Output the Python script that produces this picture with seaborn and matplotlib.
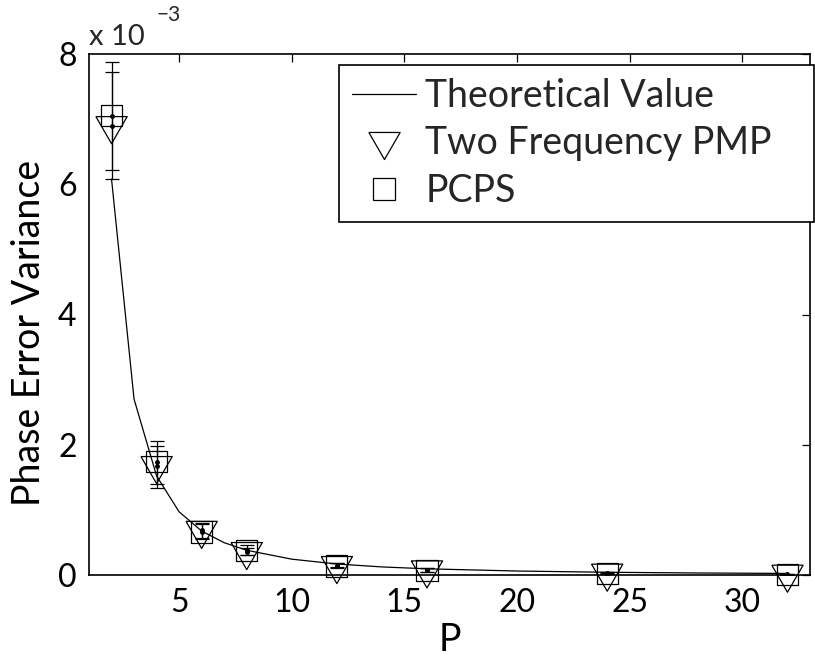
import numpy as np
import pandas as pd
import matplotlib
matplotlib.use("Agg")
import matplotlib.pyplot as plt
from matplotlib.lines import Line2D
import seaborn as sns

# ---------------- data ----------------
P = [2, 4, 6, 8, 12, 16, 24, 32]

pmp_mean = [6.90e-3, 1.68e-3, 0.685e-3, 0.36e-3, 0.145e-3, 0.078e-3, 0.028e-3, 0.012e-3]
pmp_low = [6.22e-3, 1.40e-3, 0.57e-3, 0.31e-3, 0.12e-3, 0.050e-3, 0.015e-3, 0.005e-3]
pmp_high = [7.72e-3, 1.98e-3, 0.78e-3, 0.42e-3, 0.18e-3, 0.100e-3, 0.040e-3, 0.020e-3]

pcps_mean = [7.05e-3, 1.74e-3, 0.66e-3, 0.38e-3, 0.14e-3, 0.072e-3, 0.018e-3, 0.005e-3]
pcps_low = [6.08e-3, 1.34e-3, 0.55e-3, 0.30e-3, 0.11e-3, 0.045e-3, 0.010e-3, 0.000e-3]
pcps_high = [7.88e-3, 2.06e-3, 0.80e-3, 0.455e-3, 0.19e-3, 0.100e-3, 0.030e-3, 0.015e-3]

theory_P = [2, 3, 4, 5, 6, 7, 8, 10, 12, 14, 16, 20, 24, 28, 32]
theory_val = [6.08e-3, 2.70e-3, 1.52e-3, 0.97e-3, 0.675e-3, 0.496e-3, 0.380e-3,
              0.243e-3, 0.169e-3, 0.124e-3, 0.095e-3, 0.061e-3, 0.042e-3,
              0.031e-3, 0.024e-3]

x_ticks = [5, 10, 15, 20, 25, 30]
y_ticks = [0, 2e-3, 4e-3, 6e-3, 8e-3]
y_ticklabels = ["0", "2", "4", "6", "8"]

legend_labels = ["Theoretical Value", "Two Frequency PMP", "PCPS"]

# ---------------- style ----------------
sns.set_theme(style="white")
plt.rcParams["font.family"] = ["Lato", "DejaVu Sans"]

W, H = 815, 659
fig = plt.figure(figsize=(W / 100, H / 100), dpi=100)
ax_l, ax_r, ax_t, ax_b = 89, 810, 54, 575
ax = fig.add_axes([ax_l / W, 1 - ax_b / H, (ax_r - ax_l) / W, (ax_b - ax_t) / H])

theory_df = pd.DataFrame({"P": theory_P, "v": theory_val})
sns.lineplot(data=theory_df, x="P", y="v", ax=ax, color="black", linewidth=0.9,
             legend=False, zorder=2)

# error bars
for mean, lo, hi in [(pmp_mean, pmp_low, pmp_high), (pcps_mean, pcps_low, pcps_high)]:
    m = np.array(mean)
    yerr = np.vstack([m - np.array(lo), np.array(hi) - m])
    ax.errorbar(P, m, yerr=yerr, fmt=".", color="black", markersize=5,
                elinewidth=0.9, capsize=5, capthick=0.9, zorder=3)

# triangle marker centred at its centroid (MATLAB style)
tri = [(-1.732, 1.0), (1.732, 1.0), (0.0, -2.0), (-1.732, 1.0)]
TRI_MS = 26.0
SQ_MS = 15.3

df = pd.DataFrame({"P": P + P,
                   "v": pmp_mean + pcps_mean,
                   "method": [legend_labels[1]] * len(P) + [legend_labels[2]] * len(P)})
sns.scatterplot(data=df[df.method == legend_labels[1]], x="P", y="v", ax=ax,
                marker=tri, s=TRI_MS ** 2, facecolor="none", edgecolor="black",
                linewidth=0.9, legend=False, zorder=4)
ax.collections[-1].set_clip_on(False)
sns.scatterplot(data=df[df.method == legend_labels[2]], x="P", y="v", ax=ax,
                marker="s", s=SQ_MS ** 2, facecolor="none", edgecolor="black",
                linewidth=0.9, legend=False, zorder=4)
ax.collections[-1].set_clip_on(False)

ax.set_xlim(1, 33)
ax.set_ylim(0, 8e-3)
ax.set_xticks(x_ticks)
ax.set_xticklabels([str(t) for t in x_ticks])
ax.set_yticks(y_ticks)
ax.set_yticklabels(y_ticklabels)
ax.tick_params(direction="in", length=6, width=0.9, top=True, right=True,
               labelsize=23, colors="black", pad=9)
for sp in ax.spines.values():
    sp.set_linewidth(1.2)
    sp.set_color("black")

ax.set_xlabel("P", fontsize=27, color="black", labelpad=3)
ax.set_ylabel("Phase Error Variance", fontsize=27, color="black", labelpad=8)
ax.yaxis.label.set_y(0.465)

ax.text(0.0, 1.018, "x 10", transform=ax.transAxes, fontsize=21, ha="left", va="baseline")
ax.text(0.093, 1.063, "\u22123", transform=ax.transAxes, fontsize=15, ha="left", va="baseline")

# legend
handles = [
    Line2D([], [], color="black", linewidth=0.9),
    Line2D([], [], linestyle="none", marker=tri, markersize=TRI_MS, markerfacecolor="none",
           markeredgecolor="black", markeredgewidth=0.9),
    Line2D([], [], linestyle="none", marker="s", markersize=SQ_MS, markerfacecolor="none",
           markeredgecolor="black", markeredgewidth=0.9),
]
lx0, lx1, ly0, ly1 = 339, 814, 65, 217
leg = ax.legend(handles, legend_labels, loc="upper left", fontsize=27,
                frameon=True, fancybox=False, edgecolor="black", framealpha=1,
                borderpad=0.35, labelspacing=0.3, handlelength=1.7, handletextpad=0.25,
                bbox_to_anchor=(lx0 / W, 1 - ly1 / H, (lx1 - lx0) / W, (ly1 - ly0) / H),
                bbox_transform=fig.transFigure, mode="expand", borderaxespad=0)
leg.get_frame().set_linewidth(1.2)

fig.savefig("out.png", dpi=100)
